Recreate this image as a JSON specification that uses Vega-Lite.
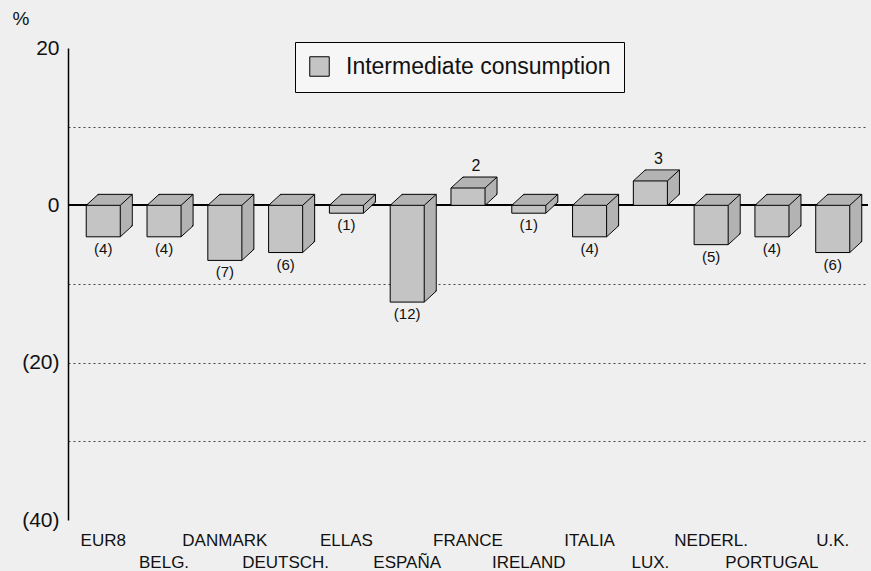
{
  "$schema": "https://vega.github.io/schema/vega-lite/v6.json",
  "width": 800,
  "height": 472,
  "autosize": "none",
  "padding": {"left": 68, "top": 48, "right": 3, "bottom": 51},
  "background": "#efefef",
  "config": {
    "view": {"stroke": null},
    "font": "Liberation Sans, Arial",
    "text": {"font": "Liberation Sans, Arial"}
  },
  "data": {
    "values": [
      {"country": "EUR8", "value": -4, "label": "(4)"},
      {"country": "BELG.", "value": -4, "label": "(4)"},
      {"country": "DANMARK", "value": -7, "label": "(7)"},
      {"country": "DEUTSCH.", "value": -6, "label": "(6)"},
      {"country": "ELLAS", "value": -1, "label": "(1)"},
      {"country": "ESPAÑA", "value": -12.3, "label": "(12)"},
      {"country": "FRANCE", "value": 2.2, "label": "2"},
      {"country": "IRELAND", "value": -1, "label": "(1)"},
      {"country": "ITALIA", "value": -4, "label": "(4)"},
      {"country": "LUX.", "value": 3.1, "label": "3"},
      {"country": "NEDERL.", "value": -5, "label": "(5)"},
      {"country": "PORTUGAL", "value": -4, "label": "(4)"},
      {"country": "U.K.", "value": -6, "label": "(6)"}
    ]
  },
  "encoding": {
    "x": {
      "field": "country",
      "type": "nominal",
      "sort": null,
      "scale": {"paddingInner": 0.44, "paddingOuter": 0.3},
      "axis": {
        "title": null,
        "domain": false,
        "ticks": false,
        "labelAngle": 0,
        "labelFontSize": 17,
        "labelColor": "#111",
        "labelPadding": 12,
        "labelLineHeight": 22,
        "labelExpr": "indexof(['BELG.','DEUTSCH.','ESPAÑA','IRELAND','LUX.','PORTUGAL'], datum.label) >= 0 ? ['', datum.label] : datum.label"
      }
    }
  },
  "layer": [
    {
      "mark": {"type": "rule", "color": "#000", "strokeWidth": 1.5},
      "encoding": {
        "x": null,
        "y": {
          "datum": 0,
          "type": "quantitative",
          "scale": {"domain": [-40, 20], "nice": false},
          "axis": {
            "values": [20, 10, 0, -10, -20, -30, -40],
            "labelExpr": "datum.value == 20 ? '20' : datum.value == 0 ? '0' : datum.value == -20 ? '(20)' : datum.value == -40 ? '(40)' : ''",
            "labelFontSize": 21,
            "labelColor": "#111",
            "labelPadding": 9,
            "ticks": false,
            "domainColor": "#000",
            "domainWidth": 1.5,
            "grid": true,
            "gridDash": [2, 3],
            "gridColor": "#444",
            "gridOpacity": {"condition": {"test": "datum.value == 10 || datum.value == -10 || datum.value == -20 || datum.value == -30", "value": 1}, "value": 0},
            "title": "%",
            "titleAngle": 0,
            "titleFontSize": 19,
            "titleFontWeight": "normal",
            "titleColor": "#111",
            "titleX": -56,
            "titleY": -20,
            "titleAlign": "left"
          }
        }
      }
    },
    {"mark": {"type": "bar", "fill": "#b3b3b3", "stroke": "#000", "strokeWidth": 1, "xOffset": 12, "x2Offset": 12, "yOffset": -11, "y2Offset": -11},
     "encoding": {"y": {"field": "value", "type": "quantitative"}, "y2": {"datum": 0}}},
    {"mark": {"type": "bar", "fill": "#b3b3b3", "xOffset": 11, "x2Offset": 11, "yOffset": -10.1, "y2Offset": -10.1},
     "encoding": {"y": {"field": "value", "type": "quantitative"}, "y2": {"datum": 0}}},
    {"mark": {"type": "bar", "fill": "#b3b3b3", "xOffset": 10, "x2Offset": 10, "yOffset": -9.2, "y2Offset": -9.2},
     "encoding": {"y": {"field": "value", "type": "quantitative"}, "y2": {"datum": 0}}},
    {"mark": {"type": "bar", "fill": "#b3b3b3", "xOffset": 9, "x2Offset": 9, "yOffset": -8.25, "y2Offset": -8.25},
     "encoding": {"y": {"field": "value", "type": "quantitative"}, "y2": {"datum": 0}}},
    {"mark": {"type": "bar", "fill": "#b3b3b3", "xOffset": 8, "x2Offset": 8, "yOffset": -7.3, "y2Offset": -7.3},
     "encoding": {"y": {"field": "value", "type": "quantitative"}, "y2": {"datum": 0}}},
    {"mark": {"type": "bar", "fill": "#b3b3b3", "xOffset": 7, "x2Offset": 7, "yOffset": -6.4, "y2Offset": -6.4},
     "encoding": {"y": {"field": "value", "type": "quantitative"}, "y2": {"datum": 0}}},
    {"mark": {"type": "bar", "fill": "#b3b3b3", "xOffset": 6, "x2Offset": 6, "yOffset": -5.5, "y2Offset": -5.5},
     "encoding": {"y": {"field": "value", "type": "quantitative"}, "y2": {"datum": 0}}},
    {"mark": {"type": "bar", "fill": "#b3b3b3", "xOffset": 5, "x2Offset": 5, "yOffset": -4.6, "y2Offset": -4.6},
     "encoding": {"y": {"field": "value", "type": "quantitative"}, "y2": {"datum": 0}}},
    {"mark": {"type": "bar", "fill": "#b3b3b3", "xOffset": 4, "x2Offset": 4, "yOffset": -3.7, "y2Offset": -3.7},
     "encoding": {"y": {"field": "value", "type": "quantitative"}, "y2": {"datum": 0}}},
    {"mark": {"type": "bar", "fill": "#b3b3b3", "xOffset": 3, "x2Offset": 3, "yOffset": -2.75, "y2Offset": -2.75},
     "encoding": {"y": {"field": "value", "type": "quantitative"}, "y2": {"datum": 0}}},
    {"mark": {"type": "bar", "fill": "#b3b3b3", "xOffset": 2, "x2Offset": 2, "yOffset": -1.8, "y2Offset": -1.8},
     "encoding": {"y": {"field": "value", "type": "quantitative"}, "y2": {"datum": 0}}},
    {"mark": {"type": "bar", "fill": "#b3b3b3", "xOffset": 1, "x2Offset": 1, "yOffset": -0.9, "y2Offset": -0.9},
     "encoding": {"y": {"field": "value", "type": "quantitative"}, "y2": {"datum": 0}}},
    {
      "transform": [{"filter": "datum.value < 0"}],
      "layer": [
        {"mark": {"type": "rule", "color": "#000", "strokeWidth": 1, "x2Offset": 12, "y2Offset": -11},
         "encoding": {"x": {"field": "country", "type": "nominal", "sort": null, "bandPosition": 0}, "x2": {"field": "country", "bandPosition": 0}, "y": {"datum": 0, "type": "quantitative"}, "y2": {"datum": 0}}},
        {"mark": {"type": "rule", "color": "#000", "strokeWidth": 1, "x2Offset": 12, "y2Offset": -11},
         "encoding": {"x": {"field": "country", "type": "nominal", "sort": null, "bandPosition": 1}, "x2": {"field": "country", "bandPosition": 1}, "y": {"datum": 0, "type": "quantitative"}, "y2": {"datum": 0}}},
        {"mark": {"type": "rule", "color": "#000", "strokeWidth": 1, "x2Offset": 12, "y2Offset": -11},
         "encoding": {"x": {"field": "country", "type": "nominal", "sort": null, "bandPosition": 1}, "x2": {"field": "country", "bandPosition": 1}, "y": {"field": "value", "type": "quantitative"}, "y2": {"field": "value"}}}
      ]
    },
    {
      "transform": [{"filter": "datum.value > 0"}],
      "layer": [
        {"mark": {"type": "rule", "color": "#000", "strokeWidth": 1, "x2Offset": 12, "y2Offset": -11},
         "encoding": {"x": {"field": "country", "type": "nominal", "sort": null, "bandPosition": 0}, "x2": {"field": "country", "bandPosition": 0}, "y": {"field": "value", "type": "quantitative"}, "y2": {"field": "value"}}},
        {"mark": {"type": "rule", "color": "#000", "strokeWidth": 1, "x2Offset": 12, "y2Offset": -11},
         "encoding": {"x": {"field": "country", "type": "nominal", "sort": null, "bandPosition": 1}, "x2": {"field": "country", "bandPosition": 1}, "y": {"field": "value", "type": "quantitative"}, "y2": {"field": "value"}}},
        {"mark": {"type": "rule", "color": "#000", "strokeWidth": 1, "x2Offset": 12, "y2Offset": -11},
         "encoding": {"x": {"field": "country", "type": "nominal", "sort": null, "bandPosition": 1}, "x2": {"field": "country", "bandPosition": 1}, "y": {"datum": 0, "type": "quantitative"}, "y2": {"datum": 0}}}
      ]
    },
    {
      "mark": {"type": "bar", "stroke": "#000", "strokeWidth": 1},
      "encoding": {
        "y": {"field": "value", "type": "quantitative"},
        "y2": {"datum": 0},
        "color": {
          "datum": "Intermediate consumption",
          "scale": {"range": ["#c4c4c4"]},
          "legend": {
            "title": null,
            "orient": "none",
            "legendX": 227,
            "legendY": -6,
            "labelFontSize": 23,
            "labelColor": "#111",
            "labelOffset": 15,
            "labelExpr": "datum.label + '\u2003\u2003'",
            "symbolType": "square",
            "symbolSize": 380,
            "symbolStrokeColor": "#000",
            "symbolStrokeWidth": 1,
            "fillColor": "#f6f6f6",
            "strokeColor": "#000",
            "padding": 13,
            "labelLimit": 500
          }
        }
      }
    },
    {
      "transform": [{"filter": "datum.value < 0"}],
      "mark": {"type": "text", "baseline": "top", "dy": 5, "fontSize": 15, "color": "#111"},
      "encoding": {
        "y": {"field": "value", "type": "quantitative"},
        "text": {"field": "label"}
      }
    },
    {
      "transform": [{"filter": "datum.value > 0"}],
      "mark": {"type": "text", "baseline": "bottom", "dy": -14, "dx": 8, "fontSize": 16, "color": "#111"},
      "encoding": {
        "y": {"field": "value", "type": "quantitative"},
        "text": {"field": "label"}
      }
    }
  ]
}
